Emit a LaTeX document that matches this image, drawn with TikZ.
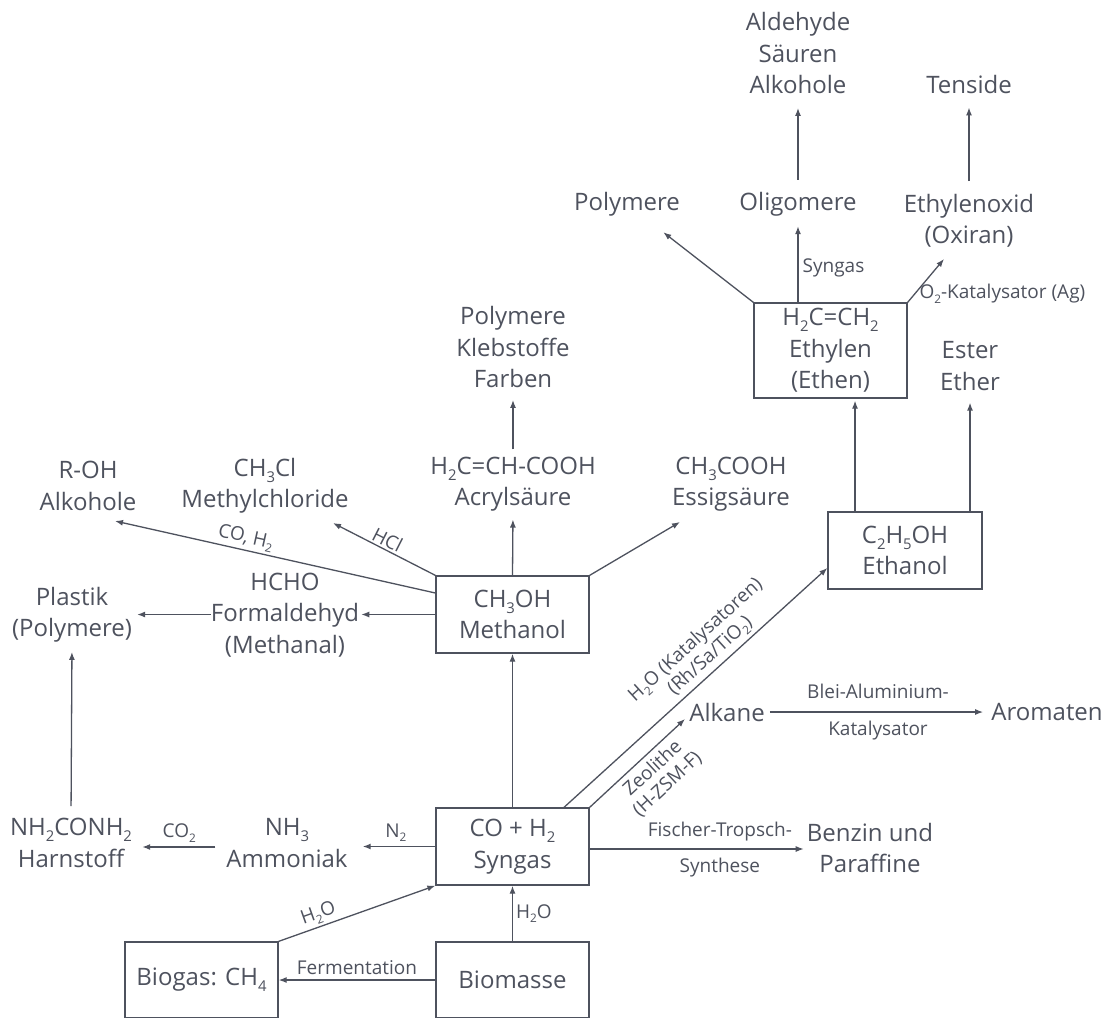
\documentclass[tikz,border=0pt]{standalone}
\usepackage{fontspec}
\setmainfont{Open Sans}
\usetikzlibrary{arrows.meta}
\definecolor{ink}{RGB}{78,82,94}
\makeatletter
\newcommand\sbs[1]{\raisebox{-0.25em}{\fontsize{\strip@pt\dimexpr\f@size pt*62/100\relax}{1}\selectfont #1}}
\makeatother
\begin{document}
\begin{tikzpicture}[x=1pt,y=-1pt,
  every node/.style={text=ink},
  txt/.style={align=center, inner sep=0pt, font=\fontsize{24}{31.5}\selectfont},
  lbl/.style={align=center, inner sep=0pt, font=\fontsize{19}{21.5}\selectfont},
  box/.style={draw=ink, line width=1.3pt, rectangle, align=center, inner sep=0pt,
              minimum width=153pt, font=\fontsize{24}{31.5}\selectfont},
  arr/.style={draw=ink, line width=1.3pt, -{Latex[length=8pt,width=6pt]}},
]
\useasboundingbox (0,0) rectangle (1113,1017);
\clip (0,0) rectangle (1113,1017);
\fill[white] (0,0) rectangle (1113,1017);

% boxes
\node[box, minimum height=77pt] (syn) at (512.5,846.5) {CO + H\sbs{2}\\Syngas};
\node[box, minimum height=77pt] (meth) at (512.5,614.5) {CH\sbs{3}OH\\Methanol};
\node[box, minimum height=95pt] (ethy) at (830.5,350.5) {H\sbs{2}C=CH\sbs{2}\\Ethylen\\(Ethen)};
\node[box, minimum width=154pt, minimum height=77pt] (etha) at (905,550.5) {C\sbs{2}H\sbs{5}OH\\Ethanol};
\node[box, minimum height=76pt] (biom) at (512.5,980) {Biomasse};
\node[box, minimum height=76pt] (biog) at (201.5,980) {Biogas: CH\sbs{4}};

% text nodes
\node[txt] (ald) at (798,53) {Aldehyde\\Säuren\\Alkohole};
\node[txt] (tens) at (969,84) {Tenside};
\node[txt] (poly) at (627,204) {Polymere};
\node[txt] (olig) at (798,204) {Oligomere};
\node[txt] (eox) at (969,221) {Ethylenoxid\\(Oxiran)};
\node[txt] (ester) at (970,366) {Ester\\Ether};
\node[txt] (pkf) at (513,347) {Polymere\\Klebstoffe\\Farben};
\node[txt] (roh) at (88,486) {R-OH\\Alkohole};
\node[txt] (mcl) at (265,486) {CH\sbs{3}Cl\\Methylchloride};
\node[txt] (acry) at (513,484) {H\sbs{2}C=CH-COOH\\Acrylsäure};
\node[txt] (essig) at (731,484) {CH\sbs{3}COOH\\Essigsäure};
\node[txt] (hcho) at (285,615) {HCHO\\Formaldehyd\\(Methanal)};
\node[txt] (plast) at (72,615) {Plastik\\(Polymere)};
\node[txt] (harn) at (71,843) {NH\sbs{2}CONH\sbs{2}\\Harnstoff};
\node[txt] (ammo) at (287,843) {NH\sbs{3}\\Ammoniak};
\node[txt] (benz) at (870,848) {Benzin und\\Paraffine};
\node[txt] (alk) at (727,712) {Alkane};
\node[txt] (arom) at (1047,712) {Aromaten};

% helper coordinates
\coordinate (e1) at ([xshift=-50pt]etha.north);
\coordinate (s1) at ([yshift=-2.5pt]syn.east);
\coordinate (a1) at ([yshift=-4pt]ammo.west);

% connectors: top
\draw[arr, shorten <=12pt, shorten >=14pt] (olig.north) -- (ald.south);
\draw[arr, shorten <=13pt, shorten >=14pt] (eox.north) -- (tens.south);
\draw[arr, shorten >=10pt] (ethy.north -| olig.south) -- node[lbl, pos=0.4, right=4pt] (lsyn) {Syngas} (olig.south);
\draw[arr, shorten >=46pt] (ethy.north west) -- (poly.center);
\draw[arr] (ethy.north east) -- node[lbl, pos=0.2, anchor=west, xshift=4pt] (lo2) {O\sbs{2}-Katalysator (Ag)} ([xshift=-25pt,yshift=-38pt]eox.center);
\draw[arr, shorten >=2pt] (e1) -- (e1 |- ethy.south);
\draw[arr, shorten >=12pt] (etha.north -| ester.south) -- (ester.south);

% syngas outputs
\draw[arr] ([xshift=51.5pt]syn.north) -- node[lbl, pos=0.59, sloped, above=3pt] (lh2o) {H\sbs{2}O (Katalysatoren)\\(Rh/Sa/TiO\sbs{2})} ([yshift=-17.5pt]etha.west);
\draw[arr] (syn.north east) -- node[lbl, pos=0.56, sloped, below=5pt] (lzeo) {Zeolithe\\(H-ZSM-F)} ([xshift=-42pt,yshift=-7pt]alk.center);
\draw[arr, shorten <=5pt, shorten >=8pt] (alk.east) -- node[lbl, midway, above=13pt] (lblei) {Blei-Aluminium-} node[lbl, midway, below=8pt] (lkat) {Katalysator} (arom.west);
\draw[arr, shorten >=3pt] (s1) -- node[lbl, pos=0.6, above=7pt] (lft) {Fischer-Tropsch-} node[lbl, pos=0.6, below=8pt] (lsyn2) {Synthese} (s1 -| benz.west);
\draw[arr, shorten >=15pt] (syn.west) -- node[lbl, pos=0.45, above=4pt] (ln2) {N\sbs{2}} (syn.west -| ammo.east);
\draw[arr, shorten <=11pt, shorten >=10pt] (a1) -- node[lbl, midway, above=4pt] (lco2) {CO\sbs{2}} (a1 -| harn.east);
\draw[arr, shorten <=12pt, shorten >=9pt] (harn.north) -- (plast.south);
\draw[arr] (syn.north) -- (meth.south);

% methanol outputs
\draw[arr, shorten >=2pt] (meth.west) -- (meth.west -| hcho.east);
\draw[arr, shorten >=5pt] (meth.west -| hcho.west) -- (meth.west -| plast.east);
\draw[arr] ([yshift=21.5pt]meth.west) -- node[lbl, pos=0.6, sloped, above=2pt] (lcoh) {CO, H\sbs{2}} ([xshift=27pt,yshift=-35pt]roh.center);
\draw[arr] (meth.north west) -- node[lbl, pos=0.51, sloped, above=2pt] (lhcl) {HCl} ([xshift=68pt,yshift=-37pt]mcl.center);
\draw[arr, shorten >=8pt] (meth.north) -- (acry.south);
\draw[arr, shorten <=7pt, shorten >=12pt] (acry.north) -- (pkf.south);
\draw[arr] (meth.north east) -- ([xshift=-51pt,yshift=-38pt]essig.center);

% bottom
\draw[arr] (biom.north) -- node[lbl, midway, right=3pt] (lh2ob) {H\sbs{2}O} (syn.south);
\draw[arr] (biom.west) -- node[lbl, midway, above=5pt] (lferm) {Fermentation} (biog.east);
\draw[arr] (biog.north east) -- node[lbl, pos=0.28, sloped, above=2pt] (lh2oc) {H\sbs{2}O} (syn.south west);
\end{tikzpicture}
\end{document}
